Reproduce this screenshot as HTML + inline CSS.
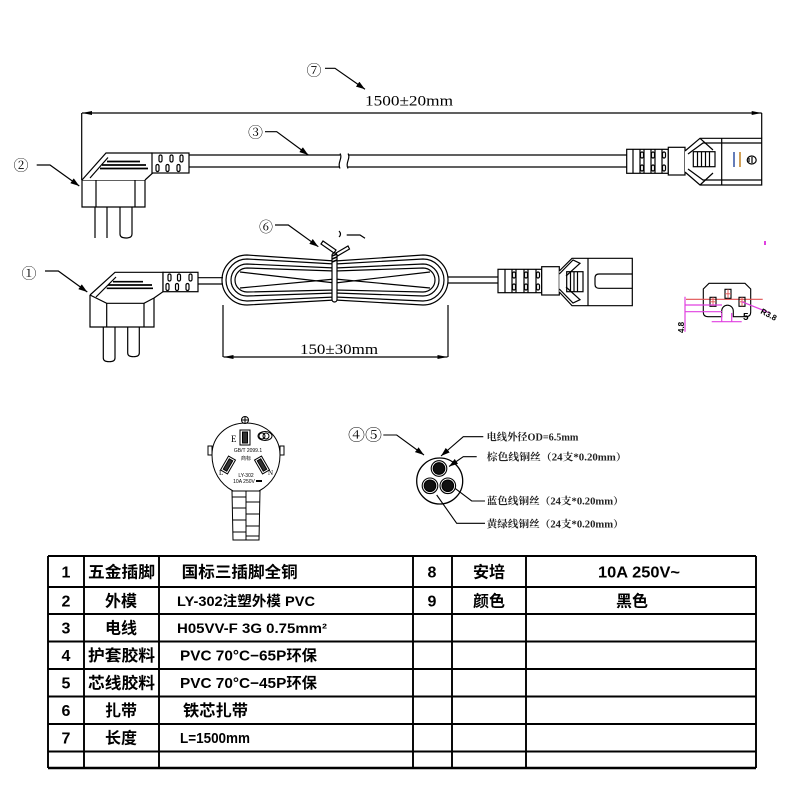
<!DOCTYPE html>
<html><head><meta charset="utf-8">
<style>
html,body{margin:0;padding:0;background:#fff;}
svg{display:block;}
.sr{font-family:"Liberation Serif","Noto Serif CJK SC",serif;}
.ss{font-family:"Liberation Sans","Noto Sans CJK SC",sans-serif;}
</style></head>
<body>
<svg width="800" height="800" viewBox="0 0 800 800" xmlns="http://www.w3.org/2000/svg">
<defs>
<marker id="ar" markerUnits="userSpaceOnUse" markerWidth="9" markerHeight="6" refX="9" refY="3" orient="auto"><path d="M0,0 L9,3 L0,6 Z" fill="#000"/></marker>
<marker id="da" markerUnits="userSpaceOnUse" markerWidth="10" markerHeight="4" refX="10" refY="2" orient="auto-start-reverse"><path d="M0,0 L10,2 L0,4 Z" fill="#000"/></marker>
</defs>
<rect width="800" height="800" fill="#fff"/>

<!-- ===== TOP ASSEMBLY ===== -->
<g fill="none" stroke="#000" stroke-width="1.2">
 <path d="M82,113 L761.7,113" marker-start="url(#da)" marker-end="url(#da)"/>
 <path d="M81.7,113 L81.7,180"/>
 <path d="M761.7,113 L761.7,138.3"/>
 <path d="M325,68.3 L335,68.3 L365,89.3" marker-end="url(#ar)"/>
 <path d="M36.7,165 L50,165 L79.3,186" marker-end="url(#ar)"/>
 <path d="M265,131.7 L276.7,131.7 L308.3,155" marker-end="url(#ar)"/>

 <!-- plug 2 -->
 <path d="M82,180 L82,207 L145,207 L145,180 Z" fill="#fff"/>
 <path d="M96,180 L96,207 M135,180 L135,207"/>
 <path d="M82,180 L106,153 L152,153 L156,162 L156,170 L145,180" fill="#fff"/>
 <path d="M90,178 L108,157.5"/>
 <path d="M107,161.5 L140,161.5 M102,165 L146,165 M100,168.5 L148,168.5" stroke-width="1.7"/>
 <rect x="152" y="153" width="37" height="20" fill="#fff"/>
 <rect x="159" y="155" width="3" height="7" rx="1.5"/>
 <rect x="170" y="155" width="3" height="7" rx="1.5"/>
 <rect x="180" y="155" width="3" height="7" rx="1.5"/>
 <rect x="156" y="164.5" width="3" height="7" rx="1.5"/>
 <rect x="166" y="164.5" width="3" height="7" rx="1.5"/>
 <rect x="177" y="164.5" width="3" height="7" rx="1.5"/>
 <path d="M95,207 L95,238 M107,207 L107,238"/>
 <path d="M120,207 L120,234 Q120,238 126,238 Q132,238 132,234 L132,207"/>
 <path d="M189,155 L340,155 M189,167 L340,167"/>
 <path d="M340,153.5 C343,158 337,163 340,168.5 M348,153.5 C351,158 345,163 348,168.5"/>
 <path d="M348,155 L627,155 M348,167 L627,167"/>
 <!-- C13 top -->
 <rect x="626.7" y="149.3" width="41.6" height="24" fill="#fff"/>
 <path d="M633,149.3 L633,173.3 M640,149.3 L640,173.3 M644,149.3 L644,173.3 M651,149.3 L651,173.3 M655,149.3 L655,173.3 M662,149.3 L662,173.3"/>
 <rect x="640.5" y="152" width="3" height="6" rx="1.5"/>
 <rect x="651.5" y="152" width="3" height="6" rx="1.5"/>
 <rect x="662.5" y="152" width="3" height="6" rx="1.5"/>
 <rect x="640.5" y="165" width="3" height="6" rx="1.5"/>
 <rect x="651.5" y="165" width="3" height="6" rx="1.5"/>
 <rect x="662.5" y="165" width="3" height="6" rx="1.5"/>
 <rect x="668.3" y="147.3" width="16.7" height="27.7" fill="#fff"/>
 <path d="M685,151 L700,138.3 L761.7,138.3 L761.7,185 L700,185 L685,172" fill="#fff"/>
 <path d="M688,154 L703,143 L721.7,143 M688,169 L703,180 L721.7,180"/>
 <path d="M700,138.3 L713,150 M700,185 L713,173"/>
 <path d="M721.7,138.3 L721.7,185 M721.7,143 L761.7,143 M721.7,180 L761.7,180"/>
 <rect x="693.3" y="151.7" width="21.7" height="15"/>
 <path d="M697.5,151.7 L697.5,166.7 M701.5,151.7 L701.5,166.7 M705.5,151.7 L705.5,166.7 M709.5,151.7 L709.5,166.7"/>
 <path d="M734,152 L734,167" stroke="#3050a0" stroke-width="1.5"/>
 <path d="M740,152 L740,167" stroke="#c08020" stroke-width="1.5"/>
 <ellipse cx="751.7" cy="160" rx="4.5" ry="4"/>
 <path d="M749,158 L749,162 M752,157 L752,163"/>
</g>
<text x="314" y="75.5" class="sr" font-size="15" text-anchor="middle">⑦</text>
<text x="21" y="170.5" class="sr" font-size="15" text-anchor="middle">②</text>
<text x="255.5" y="137.5" class="sr" font-size="15" text-anchor="middle">③</text>
<text x="365" y="105.5" class="sr" font-size="15" textLength="88" lengthAdjust="spacingAndGlyphs">1500±20mm</text>

<!-- ===== MIDDLE ASSEMBLY ===== -->
<g fill="none" stroke="#000" stroke-width="1.2">
 <path d="M45,271 L58.3,271 L87.3,292" marker-end="url(#ar)"/>
 <path d="M275,225 L288.3,225 L318.3,246.7" marker-end="url(#ar)"/>
 <path d="M339,231 Q342,234 339,237"/>
 <path d="M346.7,235 L360,235 L365,238.3"/>
 <!-- plug 1 -->
 <path d="M90,295 L90,327 L154,327 L154,298" fill="#fff"/>
 <path d="M90,295 L106.7,303.3 L144,303.3 L154,298"/>
 <path d="M106.7,303.3 L106.7,327 M144,303.3 L144,327"/>
 <path d="M90,295 L115,272.3 L163,272.3 L163,291.7 L154,298"/>
 <path d="M96,297 L116,277"/>
 <path d="M113,281.7 L143,281.7 M108,285 L152,285 M106.7,288.3 L153,288.3" stroke-width="1.7"/>
 <rect x="163" y="272.3" width="35" height="19.4" fill="#fff"/>
 <rect x="168" y="274" width="3" height="7" rx="1.5"/>
 <rect x="177.5" y="274" width="3" height="7" rx="1.5"/>
 <rect x="189" y="274" width="3" height="7" rx="1.5"/>
 <rect x="166" y="283.5" width="3" height="7" rx="1.5"/>
 <rect x="175.5" y="283.5" width="3" height="7" rx="1.5"/>
 <rect x="186" y="283.5" width="3" height="7" rx="1.5"/>
 <path d="M103.3,327 L103.3,358 Q103.3,361.7 109.2,361.7 Q115,361.7 115,358 L115,327"/>
 <path d="M127.7,327 L127.7,353 Q127.7,356.7 133.5,356.7 Q139.3,356.7 139.3,353 L139.3,327"/>
 <path d="M198,277.7 L223,277.7 M198,284 L223,284"/>
 <!-- coil -->
 <path d="M247,255 L335,261 L423,255 A25,25 0 0 1 423,305 L335,300 L247,305 A25,25 0 0 1 247,255 Z"/>
 <path d="M247,259 L335,264 L423,259 A21,21 0 0 1 423,301 L335,297 L247,301 A21,21 0 0 1 247,259 Z"/>
 <path d="M247,264 L335,268 L423,264 A16,16 0 0 1 423,296 L335,293 L247,296 A16,16 0 0 1 247,264 Z"/>
 <path d="M247,268 L335,271 L423,268 A12,12 0 0 1 423,292 L335,290 L247,292 A12,12 0 0 1 247,268 Z"/>
 <path d="M240,272 L335,283 L430,272 M240,288 L335,279 L430,288"/>
 <path d="M448,277 L498,277 M448,283 L498,283"/>
 <!-- tie -->
 <path d="M334,253 L321,244 L323,241 L336,250 Z" fill="#fff"/>
 <path d="M336,253 L348,246 L349.5,249 L337.5,256 Z" fill="#fff"/>
 <rect x="332" y="253" width="5" height="49" rx="2.5" fill="#fff"/>
 <path d="M332,256 L337,254 M332,259 L337,257 M332,262 L337,260" stroke-width="1.5"/>
 <!-- dimension 150 -->
 <path d="M223,305 L223,357 M448,305 L448,357"/>
 <path d="M223.5,357 L447.5,357" marker-start="url(#da)" marker-end="url(#da)"/>
 <!-- C13 middle -->
 <rect x="498" y="269.3" width="43.7" height="23.4" fill="#fff"/>
 <path d="M505,269.3 L505,292.7 M512,269.3 L512,292.7 M516,269.3 L516,292.7 M524,269.3 L524,292.7 M528,269.3 L528,292.7 M536,269.3 L536,292.7"/>
 <rect x="512.5" y="272" width="3" height="6" rx="1.5"/>
 <rect x="524.5" y="272" width="3" height="6" rx="1.5"/>
 <rect x="536.5" y="272" width="3" height="6" rx="1.5"/>
 <rect x="512.5" y="284" width="3" height="6" rx="1.5"/>
 <rect x="524.5" y="284" width="3" height="6" rx="1.5"/>
 <rect x="536.5" y="284" width="3" height="6" rx="1.5"/>
 <rect x="541.7" y="266.7" width="17.6" height="28.3" fill="#fff"/>
 <path d="M559.3,271 L572,258.3 L632.3,258.3 L632.3,305.7 L572,305.7 L559.3,292" fill="#fff"/>
 <path d="M559.3,274 L573,260 L580,263.3 L566,276 M559.3,289 L573,303 L580,299.7 L566,287"/>
 <rect x="566.7" y="271.7" width="16.3" height="20"/>
 <path d="M570.5,271.7 L570.5,291.7 M574,271.7 L574,291.7 M577.5,271.7 L577.5,291.7"/>
 <path d="M632.3,274 L599,274 Q595,274 595,278 L595,284.3 Q595,288.3 599,288.3 L632.3,288.3"/>
 <path d="M588,258.3 L588,305.7"/>
</g>
<text x="29" y="278.5" class="sr" font-size="15" text-anchor="middle">①</text>
<text x="266" y="232" class="sr" font-size="14" text-anchor="middle">⑥</text>
<text x="300" y="354" class="sr" font-size="15" textLength="78" lengthAdjust="spacingAndGlyphs">150±30mm</text>

<!-- small C13 face with dims -->
<g fill="none" stroke-width="1.1">
 <rect x="764" y="241" width="2" height="4" fill="#e040e0" stroke="none"/>
 <path d="M709,283.3 L745,283.3 L750.7,289 L750.7,312 Q750.7,316.7 746,316.7 L733.3,316.7 L733.3,311 A5.8,5.8 0 0 0 721.7,311 L721.7,316.7 L708,316.7 Q703.3,316.7 703.3,312 L703.3,289 Z" stroke="#000"/>
 <path d="M686,299.3 L762.7,299.3" stroke="#e05050"/>
 <rect x="710" y="297.3" width="6" height="9" stroke="#000"/>
 <rect x="725" y="289.3" width="6" height="9" stroke="#000"/>
 <rect x="739" y="297.3" width="6" height="9" stroke="#000"/>
 <path d="M713,297.3 L713,306.3 M710,301.8 L716,301.8 M728,289.3 L728,298.3 M725,293.8 L731,293.8 M742,297.3 L742,306.3 M739,301.8 L745,301.8" stroke="#e05050" stroke-width="0.9"/>
 <path d="M685,296.7 L685,331.7 M685,305 L722,305 M685,311.7 L722,311.7 M721.7,313 L721.7,322 M731.7,313 L731.7,322 M711.7,321.7 L741.7,321.7 M741.7,301.7 L770,313" stroke="#e040e0" stroke-width="1.2"/>
</g>
<text transform="translate(684,333) rotate(-90)" class="ss" font-size="8" font-weight="bold">4.8</text>
<text x="743" y="320" class="ss" font-size="10" font-weight="bold">5</text>
<text transform="translate(760,313) rotate(28)" class="ss" font-size="8" font-weight="bold">R3.8</text>

<!-- ===== PLUG FRONT VIEW ===== -->
<g fill="none" stroke="#000" stroke-width="1">
 <rect x="208" y="446" width="4" height="9" fill="#fff"/>
 <rect x="280" y="446" width="4" height="9" fill="#fff"/>
 <path d="M233,491 C220,484 212,471 212,455 C212,436 227,423 246,423 C265,423 280,436 280,455 C280,471 272,484 259,491 Z" fill="#fff"/>
 <circle cx="245" cy="420" r="3.5" fill="#fff"/>
 <path d="M241.5,420 L248.5,420 M245,416.5 L245,423.5"/>
 <rect x="240" y="430" width="10" height="15"/>
 <rect x="242.5" y="432" width="5" height="11" fill="#333"/>
 <ellipse cx="265" cy="436" rx="7" ry="4.5"/>
 <circle cx="262" cy="436" r="3"/>
 <circle cx="266" cy="436" r="3"/>
 <g transform="rotate(30 228 465)"><rect x="224" y="457" width="8" height="16" fill="#fff"/><rect x="226" y="459" width="4" height="12" fill="#333"/></g>
 <g transform="rotate(-30 262 465)"><rect x="258" y="457" width="8" height="16" fill="#fff"/><rect x="260" y="459" width="4" height="12" fill="#333"/></g>
 <path d="M256,481 L262,481" stroke-width="2"/>
 <path d="M232,491 L260,491 L259,540 L233,540 Z" fill="#fff"/>
 <path d="M246,491 L246,540"/>
 <path d="M232.5,497 L246,497 M232.7,508 L246,508 M232.8,520 L246,520 M232.9,532 L246,532 M246,502 L259.7,502 M246,514 L259.5,514 M246,526 L259.3,526 M246,536 L259.2,536"/>
</g>
<text x="231" y="442" class="sr" font-size="9">E</text>
<text x="248" y="452" class="ss" font-size="5" text-anchor="middle">GB/T 2099.1</text>
<text x="246" y="460" class="ss" font-size="5" text-anchor="middle">商标</text>
<text x="219" y="475" class="sr" font-size="7">L</text>
<text x="268" y="475" class="sr" font-size="7">N</text>
<text x="246" y="477" class="ss" font-size="5" text-anchor="middle">LY-302</text>
<text x="244" y="483" class="ss" font-size="5" text-anchor="middle">10A 250V</text>

<!-- ===== CROSS SECTION ===== -->
<g fill="none" stroke="#000" stroke-width="1.1">
 <circle cx="439.7" cy="481" r="23" stroke-width="1.3"/>
 <circle cx="439" cy="468.5" r="7.8" fill="#fff"/>
 <circle cx="439" cy="468.5" r="5.8" fill="#111"/>
 <circle cx="430" cy="485.8" r="7.8" fill="#fff"/>
 <circle cx="430" cy="485.8" r="5.8" fill="#111"/>
 <circle cx="447.8" cy="485.8" r="7.8" fill="#fff"/>
 <circle cx="447.8" cy="485.8" r="5.8" fill="#111"/>
 <path d="M383.3,435 L396.7,435 L424,455" marker-end="url(#ar)"/>
 <path d="M483.3,436.7 L463.3,436.7 L441,456" marker-end="url(#ar)"/>
 <path d="M476.7,456.7 L463.3,456.7 L449,466.5" marker-end="url(#ar)"/>
 <path d="M455,488.3 L471.7,501 L485,501"/>
 <path d="M436.7,495 L456.7,523.3 L485,523.3"/>
</g>
<text x="365" y="440.5" class="sr" font-size="16" text-anchor="middle" textLength="34" lengthAdjust="spacingAndGlyphs">④⑤</text>
<g class="sr" font-size="10" font-weight="bold" fill="#222">
 <text x="486.7" y="440.5" textLength="91.7" lengthAdjust="spacingAndGlyphs">电线外径OD=6.5mm</text>
 <text x="486.7" y="460.5" textLength="140" lengthAdjust="spacingAndGlyphs">棕色线铜丝（24支*0.20mm）</text>
 <text x="486.7" y="504.5" textLength="137" lengthAdjust="spacingAndGlyphs">蓝色线铜丝（24支*0.20mm）</text>
 <text x="486.7" y="527.3" textLength="137" lengthAdjust="spacingAndGlyphs">黄绿线铜丝（24支*0.20mm）</text>
</g>

<!-- ===== TABLE ===== -->
<g stroke="#000" stroke-width="1.9" fill="none">
 <path d="M48,556 L756,556 M48,587 L756,587 M48,614 L756,614 M48,641.5 L756,641.5 M48,669 L756,669 M48,696.5 L756,696.5 M48,724 L756,724 M48,751.5 L756,751.5"/>
 <path d="M48,768 L756,768" stroke-width="2.4"/>
 <path d="M48,556 L48,768 M84,556 L84,768 M159,556 L159,768 M413,556 L413,768 M452,556 L452,768 M526,556 L526,768 M756,556 L756,768"/>
</g>
<g class="ss" fill="#000" font-size="16" font-weight="bold">
 <g text-anchor="middle">
  <text x="66" y="577.5">1</text>
  <text x="66" y="606.5">2</text>
  <text x="66" y="633.5">3</text>
  <text x="66" y="661">4</text>
  <text x="66" y="688.5">5</text>
  <text x="66" y="716">6</text>
  <text x="66" y="743.5">7</text>
  <text x="121.5" y="577.5" textLength="67" lengthAdjust="spacingAndGlyphs">五金插脚</text>
  <text x="121" y="606.5">外模</text>
  <text x="121" y="633.5">电线</text>
  <text x="121.5" y="661" textLength="67" lengthAdjust="spacingAndGlyphs">护套胶料</text>
  <text x="121.5" y="688.5" textLength="67" lengthAdjust="spacingAndGlyphs">芯线胶料</text>
  <text x="121" y="716">扎带</text>
  <text x="121" y="743.5">长度</text>
  <text x="432" y="577.5">8</text>
  <text x="432" y="606.5">9</text>
  <text x="489" y="577.5">安培</text>
  <text x="489" y="606.5">颜色</text>
  <text x="639" y="577.5" textLength="82" lengthAdjust="spacingAndGlyphs">10A 250V~</text>
  <text x="632" y="606.5">黑色</text>
 </g>
 <text x="181.7" y="577.5" textLength="116" lengthAdjust="spacingAndGlyphs">国标三插脚全铜</text>
 <text x="177" y="606" font-size="14" textLength="138" lengthAdjust="spacingAndGlyphs">LY-302注塑外模 PVC</text>
 <text x="177" y="633" font-size="14" textLength="150" lengthAdjust="spacingAndGlyphs">H05VV-F 3G 0.75mm²</text>
 <text x="180" y="660.5" font-size="15" textLength="137" lengthAdjust="spacingAndGlyphs">PVC 70°C−65P环保</text>
 <text x="180" y="688" font-size="15" textLength="137" lengthAdjust="spacingAndGlyphs">PVC 70°C−45P环保</text>
 <text x="183" y="716" textLength="65" lengthAdjust="spacingAndGlyphs">铁芯扎带</text>
 <text x="180" y="743" font-size="15" textLength="70" lengthAdjust="spacingAndGlyphs">L=1500mm</text>
</g>
</svg>
</body></html>
